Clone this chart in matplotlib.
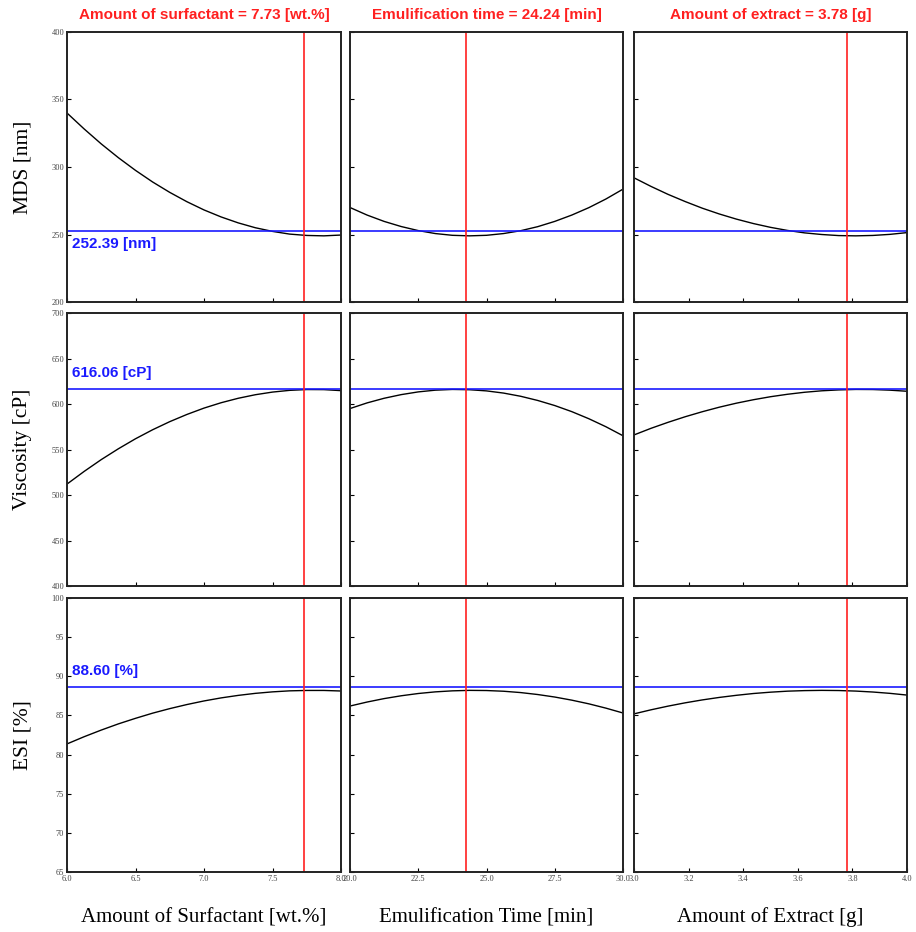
import matplotlib.pyplot as plt
import numpy as np

# factor grids
surfactant = np.linspace(6.0, 8.0, 17)
emul_time = np.linspace(20.0, 30.0, 17)
extract = np.linspace(3.0, 4.0, 17)

# responses
mds_surf = [340.0, 328.2, 317.1, 306.9, 297.5, 288.9, 281.2, 274.3, 268.2,
            263.0, 258.6, 255.0, 252.3, 250.3, 249.3, 249.0, 249.6]
mds_time = [270.0, 264.4, 259.7, 255.9, 252.9, 250.7, 249.4, 249.0, 249.4,
            250.7, 252.8, 255.8, 259.7, 264.4, 269.9, 276.3, 283.6]
mds_extr = [292.0, 285.6, 279.7, 274.4, 269.5, 265.2, 261.4, 258.1, 255.3,
            253.0, 251.2, 250.0, 249.2, 249.0, 249.3, 250.1, 251.4]

visc_surf = [512.0, 525.9, 538.9, 550.8, 561.8, 571.7, 580.6, 588.5, 595.5,
             601.4, 606.3, 610.2, 613.1, 615.0, 615.9, 615.8, 614.7]
visc_time = [595.0, 601.2, 606.3, 610.3, 613.3, 615.2, 616.0, 615.7, 614.4,
             612.0, 608.5, 603.9, 598.3, 591.6, 583.8, 575.0, 565.1]
visc_extr = [566.0, 573.3, 579.9, 586.0, 591.5, 596.5, 600.9, 604.7, 608.0,
             610.7, 612.9, 614.5, 615.5, 616.0, 615.9, 615.2, 614.0]

esi_surf = [81.36, 82.28, 83.13, 83.92, 84.63, 85.29, 85.87, 86.39, 86.85,
            87.24, 87.56, 87.82, 88.01, 88.14, 88.19, 88.19, 88.12]
esi_time = [86.2, 86.71, 87.15, 87.51, 87.8, 88.01, 88.14, 88.2, 88.18,
            88.09, 87.92, 87.67, 87.35, 86.95, 86.48, 85.93, 85.31]
esi_extr = [85.2, 85.72, 86.19, 86.61, 86.98, 87.3, 87.57, 87.8, 87.97,
            88.1, 88.17, 88.2, 88.18, 88.11, 87.99, 87.82, 87.6]

optimum = [7.73, 24.24, 3.78]
predicted = [252.39, 616.06, 88.60]
pred_labels = ["252.39 [nm]", "616.06 [cP]", "88.60 [%]"]

col_titles = ["Amount of surfactant = 7.73 [wt.%]",
              "Emulification time = 24.24 [min]",
              "Amount of extract = 3.78 [g]"]
x_names = ["Amount of Surfactant [wt.%]", "Emulification Time [min]", "Amount of Extract [g]"]
y_names = ["MDS [nm]", "Viscosity [cP]", "ESI [%]"]

x_data = [surfactant, emul_time, extract]
x_limits = [(6.0, 8.0), (20.0, 30.0), (3.0, 4.0)]
x_ticks = [[6.0, 6.5, 7.0, 7.5, 8.0],
           [20.0, 22.5, 25.0, 27.5, 30.0],
           [3.0, 3.2, 3.4, 3.6, 3.8, 4.0]]
y_limits = [(200, 400), (400, 700), (65, 100)]
y_ticks = [np.arange(200, 401, 50), np.arange(400, 701, 50), np.arange(65, 101, 5)]
responses = [[mds_surf, mds_time, mds_extr],
             [visc_surf, visc_time, visc_extr],
             [esi_surf, esi_time, esi_extr]]

W, H = 916, 932
fig = plt.figure(figsize=(W / 100, H / 100), dpi=100)

lefts = [67, 350, 634]
widths = [274, 273, 273]
tops = [32, 313, 598]
heights = [270, 273, 274]

narrow = ['Liberation Sans Narrow', 'Liberation Sans', 'DejaVu Sans']
serif = ['Liberation Serif', 'DejaVu Serif']

for r in range(3):
    for c in range(3):
        ax = fig.add_axes([lefts[c] / W, 1 - (tops[r] + heights[r]) / H,
                           widths[c] / W, heights[r] / H])
        ax.plot(x_data[c], responses[r][c], color='black', lw=1.0)
        ax.axhline(predicted[r], color='#1a1aff', lw=1.2)
        ax.axvline(optimum[c], color='#ff2020', lw=1.2)
        ax.set_xlim(*x_limits[c])
        ax.set_ylim(*y_limits[r])
        ax.set_xticks(x_ticks[c])
        ax.set_yticks(y_ticks[r])
        ax.tick_params(direction='in', length=3, width=0.8, labelsize=6,
                       labelcolor='#444444', pad=2)
        for lab in ax.get_xticklabels() + ax.get_yticklabels():
            lab.set_family(serif)
        if r < 2:
            ax.set_xticklabels([])
        if c > 0:
            ax.set_yticklabels([])
        for s in ax.spines.values():
            s.set_linewidth(1.4)
            s.set_color('#222222')

        if c == 0:
            ax.set_ylabel(y_names[r], fontsize=15.5, family=serif, labelpad=14)
            span = y_limits[r][1] - y_limits[r][0]
            if r == 0:
                ty, va = predicted[r] - span * 0.02, 'top'
            else:
                ty, va = predicted[r] + span * 0.035, 'bottom'
            ax.text(x_limits[c][0] + 0.02 * (x_limits[c][1] - x_limits[c][0]), ty,
                    pred_labels[r], color='#1a1aff', fontsize=11, fontweight='bold',
                    family=narrow, va=va, ha='left')
        if r == 0:
            ax.set_title(col_titles[c], color='#ff2020', fontsize=11, fontweight='bold',
                         family=narrow, pad=9)
        if r == 2:
            fig.text((lefts[c] + widths[c] / 2) / W, 1 - 922 / H, x_names[c],
                     fontsize=15, family=serif, ha='center', va='baseline')

fig.savefig("out.png", dpi=100)
